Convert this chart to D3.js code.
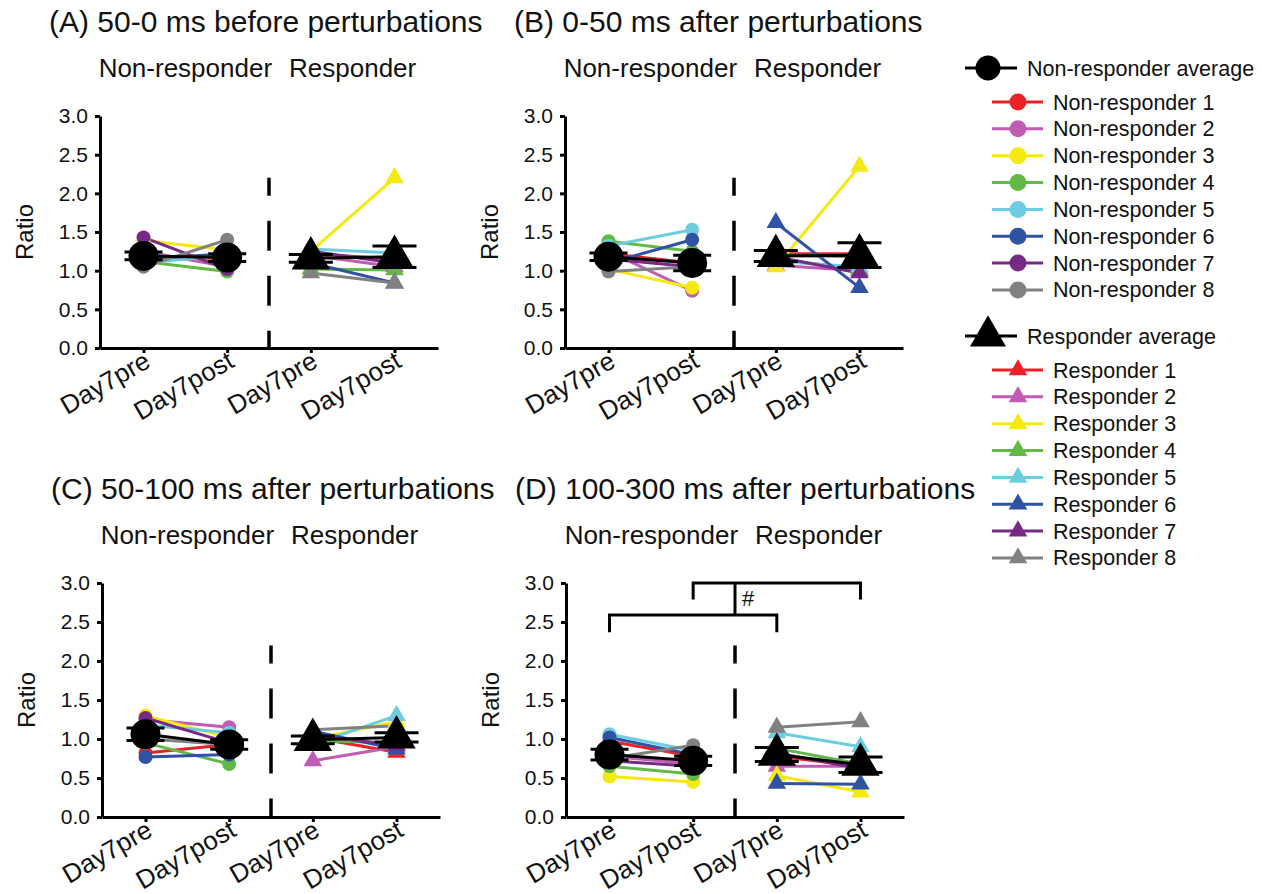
<!DOCTYPE html>
<html>
<head>
<meta charset="utf-8">
<script src="https://cdn.jsdelivr.net/npm/d3@7"></script>
<style>
  body { margin: 0; background: #fff; }
  svg { display: block; font-family: "Liberation Sans", Arial, Helvetica, sans-serif; }
</style>
</head>
<body>
<svg id="chart" width="1262" height="894"></svg>
<script>
// ---------- data ----------
const panelTitles = [
  "(A) 50-0 ms before perturbations",
  "(B) 0-50 ms after perturbations",
  "(C) 50-100 ms after perturbations",
  "(D) 100-300 ms after perturbations"
];
const groupNames = ["Non-responder", "Responder"];
const timeLabels = ["Day7pre", "Day7post"];
const yTickValues = [0, 0.5, 1.0, 1.5, 2.0, 2.5, 3.0];
const subjectColors = ["#ec2027", "#c15cb3", "#f4ea12", "#62b946", "#6ccde0", "#2e52a4", "#762a85", "#818181"];

// individual subjects 1-8, each [Day7pre, Day7post]
const nonResponderA = [[1.20, 1.15], [1.25, 1.05], [1.39, 1.27], [1.12, 0.99], [1.10, 1.20], [1.15, 1.22], [1.43, 1.02], [1.05, 1.40]];
const responderA    = [[1.22, 1.15], [1.20, 1.05], [1.25, 2.20], [1.02, 1.01], [1.28, 1.23], [1.10, 0.84], [1.25, 1.10], [0.97, 0.84]];
const nonResponderB = [[1.22, 1.10], [1.25, 0.74], [1.02, 0.78], [1.38, 1.25], [1.32, 1.53], [1.10, 1.40], [1.15, 1.05], [0.99, 1.05]];
const responderB    = [[1.22, 1.22], [1.07, 1.00], [1.05, 2.35], [1.15, 1.02], [1.12, 1.05], [1.62, 0.78], [1.18, 0.97], [1.20, 1.18]];
const nonResponderC = [[0.82, 0.93], [1.25, 1.15], [1.30, 1.02], [0.95, 0.68], [1.18, 1.08], [0.77, 0.80], [1.27, 0.95], [1.00, 0.93]];
const responderC    = [[1.02, 0.83], [0.72, 0.90], [1.00, 1.22], [0.98, 0.95], [0.93, 1.30], [1.10, 0.87], [1.05, 0.92], [1.12, 1.17]];
const nonResponderD = [[0.97, 0.78], [0.78, 0.68], [0.52, 0.45], [0.65, 0.55], [1.06, 0.85], [1.02, 0.80], [0.72, 0.65], [0.75, 0.92]];
const responderD    = [[0.78, 0.65], [0.65, 0.65], [0.53, 0.32], [0.88, 0.68], [1.08, 0.90], [0.43, 0.42], [0.82, 0.62], [1.15, 1.22]];

// group averages and SEM per panel (A-D), each [Day7pre, Day7post]
const nonResponderMean = [[1.19, 1.17], [1.18, 1.10], [1.06, 0.93], [0.80, 0.72]];
const nonResponderSem  = [[0.05, 0.05], [0.05, 0.10], [0.08, 0.06], [0.07, 0.06]];
const responderMean    = [[1.16, 1.18], [1.19, 1.20], [0.99, 1.02], [0.80, 0.67]];
const responderSem     = [[0.05, 0.14], [0.07, 0.16], [0.05, 0.06], [0.09, 0.10]];

// ---------- layout ----------
const svg = d3.select("#chart");
const plotW = 338;
const panelFrames = [
  { x: 100, y: 116, h: 232 },
  { x: 565, y: 116, h: 232 },
  { x: 102, y: 583, h: 234 },
  { x: 566, y: 583, h: 234 }
];
const individualSets = [
  [nonResponderA, responderA],
  [nonResponderB, responderB],
  [nonResponderC, responderC],
  [nonResponderD, responderD]
];
const meanSets = [nonResponderMean, responderMean];
const semSets = [nonResponderSem, responderSem];

const xKeys = [];
groupNames.forEach(g => timeLabels.forEach(t => xKeys.push(g + "|" + t)));

const circleSym = d3.symbol().type(d3.symbolCircle);
const triSym = d3.symbol().type(d3.symbolTriangle);

panelFrames.forEach((frame, p) => {
  const g = svg.append("g").attr("transform", `translate(${frame.x},${frame.y})`);
  const x = d3.scalePoint().domain(xKeys).range([0, plotW]).padding(0.52);
  const y = d3.scaleLinear().domain([0, 3]).range([frame.h, 0]);

  // title and group headings
  g.append("text")
    .attr("x", -51).attr("y", -84)
    .attr("font-size", 30).attr("fill", "#111")
    .text(panelTitles[p]);
  groupNames.forEach(name => {
    const cx = (x(name + "|" + timeLabels[0]) + x(name + "|" + timeLabels[1])) / 2;
    g.append("text")
      .attr("x", cx).attr("y", -39)
      .attr("text-anchor", "middle")
      .attr("font-size", 26).attr("fill", "#111")
      .text(name);
  });

  // y axis
  const yAxis = g.append("g")
    .call(d3.axisLeft(y).tickValues(yTickValues).tickFormat(d3.format(".1f")).tickSize(5).tickSizeOuter(0).tickPadding(7));
  yAxis.select(".domain").attr("stroke", "#000").attr("stroke-width", 3);
  yAxis.selectAll(".tick line").attr("stroke", "#000").attr("stroke-width", 3);
  yAxis.selectAll(".tick text").attr("font-size", 21).attr("fill", "#111")
    .attr("font-family", "Liberation Sans, Arial, sans-serif");

  g.append("text")
    .attr("transform", `translate(-67,${frame.h / 2}) rotate(-90)`)
    .attr("text-anchor", "middle")
    .attr("font-size", 24).attr("fill", "#111")
    .text("Ratio");

  // x axis
  const xAxis = g.append("g")
    .attr("transform", `translate(0,${frame.h})`)
    .call(d3.axisBottom(x).tickSize(5).tickSizeOuter(0).tickFormat(d => d.split("|")[1]));
  xAxis.select(".domain").attr("stroke", "#000").attr("stroke-width", 3);
  xAxis.selectAll(".tick line").attr("stroke", "#000").attr("stroke-width", 3);
  xAxis.selectAll(".tick text")
    .attr("x", 0).attr("y", 0).attr("dy", 0)
    .attr("text-anchor", "end")
    .attr("transform", "translate(8,18) rotate(-30)")
    .attr("font-size", 26).attr("fill", "#111")
    .attr("font-family", "Liberation Sans, Arial, sans-serif");

  // dashed divider between the two groups
  const divX = (x(groupNames[0] + "|" + timeLabels[1]) + x(groupNames[1] + "|" + timeLabels[0])) / 2;
  g.append("line")
    .attr("x1", divX).attr("x2", divX)
    .attr("y1", y(2.2)).attr("y2", y(0))
    .attr("stroke", "#000").attr("stroke-width", 3.5)
    .attr("stroke-dasharray", "30,25").attr("stroke-dashoffset", 12);

  // groups
  groupNames.forEach((name, gi) => {
    const x0 = x(name + "|" + timeLabels[0]);
    const x1 = x(name + "|" + timeLabels[1]);
    const subjects = individualSets[p][gi];
    const sym = gi === 0 ? circleSym.size(Math.PI * 7 * 7) : triSym.size(150);

    const sg = g.append("g");
    subjects.forEach((v, i) => {
      sg.append("line")
        .attr("x1", x0).attr("y1", y(v[0]))
        .attr("x2", x1).attr("y2", y(v[1]))
        .attr("stroke", subjectColors[i]).attr("stroke-width", 3);
    });
    subjects.forEach((v, i) => {
      [x0, x1].forEach((xx, k) => {
        sg.append("path")
          .attr("d", sym())
          .attr("transform", `translate(${xx},${y(v[k])})`)
          .attr("fill", subjectColors[i]);
      });
    });

    // group average with SEM
    const m = meanSets[gi][p];
    const s = semSets[gi][p];
    const capHalf = gi === 0 ? 19 : 22;
    const mg = g.append("g");
    mg.append("line")
      .attr("x1", x0).attr("y1", y(m[0]))
      .attr("x2", x1).attr("y2", y(m[1]))
      .attr("stroke", "#000").attr("stroke-width", 3);
    [x0, x1].forEach((xx, k) => {
      const lo = y(m[k] - s[k]), hi = y(m[k] + s[k]);
      mg.append("line").attr("x1", xx).attr("x2", xx).attr("y1", lo).attr("y2", hi)
        .attr("stroke", "#000").attr("stroke-width", 3);
      [lo, hi].forEach(yy => {
        mg.append("line").attr("x1", xx - capHalf).attr("x2", xx + capHalf)
          .attr("y1", yy).attr("y2", yy)
          .attr("stroke", "#000").attr("stroke-width", 3);
      });
    });
    const bigSym = gi === 0 ? d3.symbol().type(d3.symbolCircle).size(Math.PI * 15 * 15)
                            : d3.symbol().type(d3.symbolTriangle).size(640);
    [x0, x1].forEach((xx, k) => {
      mg.append("path")
        .attr("d", bigSym())
        .attr("transform", `translate(${xx},${y(m[k])})`)
        .attr("fill", "#000");
    });
  });

  // significance bracket (panel D)
  if (p === 3) {
    const bx = k => x(k);
    const nrPre = bx(groupNames[0] + "|" + timeLabels[0]);
    const nrPost = bx(groupNames[0] + "|" + timeLabels[1]);
    const rPre = bx(groupNames[1] + "|" + timeLabels[0]);
    const rPost = bx(groupNames[1] + "|" + timeLabels[1]);
    const br = g.append("g").attr("fill", "none").attr("stroke", "#000").attr("stroke-width", 3);
    br.append("path").attr("d", `M${nrPre},${y(2.37)}V${y(2.59)}H${rPre}V${y(2.37)}`);
    br.append("path").attr("d", `M${nrPost},${y(2.79)}V${y(3.0)}H${rPost}V${y(2.79)}`);
    const midX = ((nrPre + rPre) / 2 + (nrPost + rPost) / 2) / 2;
    br.append("line").attr("x1", midX).attr("x2", midX).attr("y1", y(2.59)).attr("y2", y(3.0));
    g.append("text")
      .attr("x", midX + 7).attr("y", y(2.7))
      .attr("font-size", 22).attr("fill", "#111")
      .text("#");
  }
});

// ---------- legend ----------
const legend = svg.append("g");
const legendGroups = [
  { label: "Non-responder average", sym: d3.symbol().type(d3.symbolCircle).size(Math.PI * 12.5 * 12.5), small: d3.symbol().type(d3.symbolCircle).size(Math.PI * 8.5 * 8.5), top: 68, prefix: "Non-responder" },
  { label: "Responder average", sym: d3.symbol().type(d3.symbolTriangle).size(560), small: d3.symbol().type(d3.symbolTriangle).size(150), top: 336, prefix: "Responder" }
];
legendGroups.forEach(lg => {
  legend.append("line").attr("x1", 965).attr("x2", 1017).attr("y1", lg.top).attr("y2", lg.top)
    .attr("stroke", "#000").attr("stroke-width", 3);
  legend.append("path").attr("d", lg.sym()).attr("transform", `translate(988,${lg.top})`).attr("fill", "#000");
  legend.append("text").attr("x", 1027).attr("y", lg.top + 7.5)
    .attr("font-size", 21.5).attr("fill", "#111").text(lg.label);
  subjectColors.forEach((c, i) => {
    const yy = lg.top + 34 + i * 26.85;
    legend.append("line").attr("x1", 992).attr("x2", 1043).attr("y1", yy).attr("y2", yy)
      .attr("stroke", c).attr("stroke-width", 3);
    legend.append("path").attr("d", lg.small()).attr("transform", `translate(1018,${yy})`).attr("fill", c);
    legend.append("text").attr("x", 1053).attr("y", yy + 7.5)
      .attr("font-size", 21.5).attr("fill", "#111").text(`${lg.prefix} ${i + 1}`);
  });
});
</script>
</body>
</html>
